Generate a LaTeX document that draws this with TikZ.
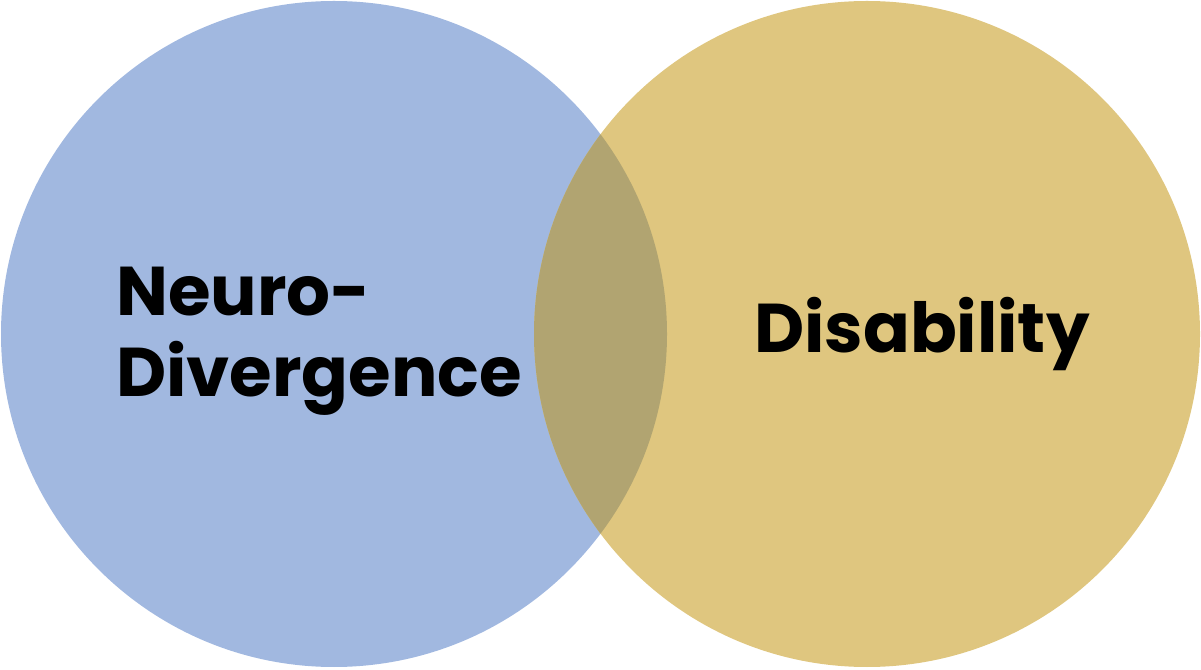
\documentclass[tikz,border=0pt]{standalone}
\usepackage{fontspec}
\newfontfamily\labelfont{Poppins}
\definecolor{neuroblue}{HTML}{A1B8E0}
\definecolor{disgold}{HTML}{DFC67F}
\definecolor{overlap}{HTML}{B1A471}
\begin{document}
\begin{tikzpicture}[x=1pt,y=1pt,
  setcircle/.style={circle, minimum size=666pt, inner sep=0pt, draw=none},
  setlabel/.style={font=\labelfont\bfseries\fontsize{69}{80}\selectfont, inner sep=0pt, text=black}]
  \useasboundingbox (0,0) rectangle (1201,669);
  % the two sets
  \node[setcircle, fill=neuroblue] (nd) at (334,335) {};
  \node[setcircle, fill=disgold] (dis) at (867,335) {};
  % their intersection
  \begin{scope}
    \clip (334,335) circle[radius=333];
    \fill[overlap] (867,335) circle[radius=333];
  \end{scope}
  % labels
  \node[setlabel, anchor=base west] (ndtop) at (116,353) {Neuro-};
  \node[setlabel, anchor=base west] (ndbot) at (116,272) {Divergence};
  \node[setlabel, anchor=base west] (distext) at (754,316) {Disability};
\end{tikzpicture}
\end{document}
